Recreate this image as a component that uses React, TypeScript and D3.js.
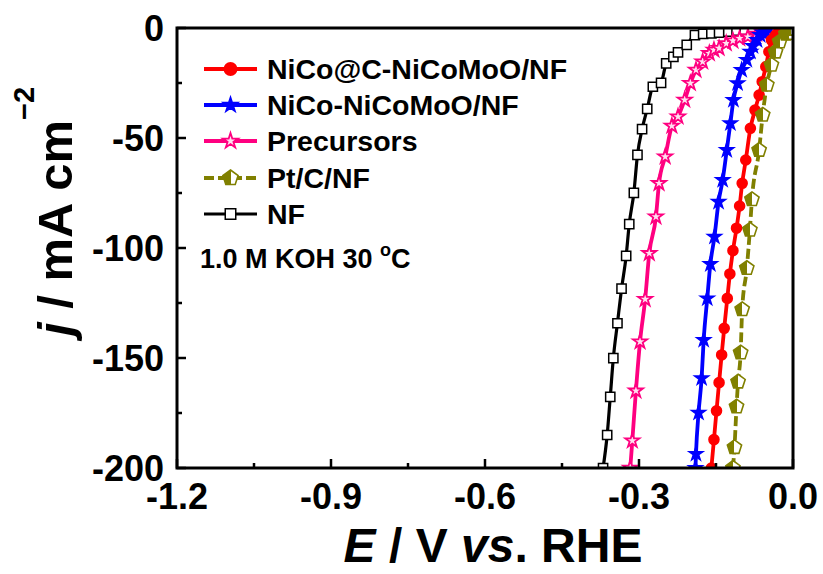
import React from "react";
import * as d3 from "d3";

const xTicks = [-1.2, -0.9, -0.6, -0.3, 0.0];
const xMinor = [-1.05, -0.75, -0.45, -0.15];
const yTicks = [0, -50, -100, -150, -200];
const yMinor = [-25, -75, -125, -175];

const seriesNames = ["NiCo@C-NiCoMoO/NF", "NiCo-NiCoMoO/NF", "Precursors", "Pt/C/NF", "NF"];

const nfE = [-0.370, -0.362, -0.356, -0.350, -0.342, -0.334, -0.325, -0.319, -0.310, -0.303, -0.294, -0.284, -0.273, -0.257, -0.247, -0.233, -0.224, -0.207, -0.191, -0.175, -0.159, -0.144, -0.126, -0.110, -0.094, -0.078, -0.062];
const nfJ = [-200, -185, -167.7, -150.1, -134.2, -118.5, -103.6, -89.1, -74.9, -57.7, -46, -36.8, -26.7, -24.9, -16.1, -13.1, -11.1, -7.7, -3.2, -2.7, -2.4, -2.1, -1.7, -1.2, -0.9, -0.6, -0.1];

const preE = [-0.317, -0.313, -0.306, -0.298, -0.288, -0.280, -0.267, -0.261, -0.249, -0.236, -0.224, -0.211, -0.200, -0.189, -0.176, -0.163, -0.154, -0.144, -0.130, -0.117, -0.104, -0.088, -0.071, -0.059, -0.047];
const preJ = [-200, -187.6, -164.9, -142.6, -123.3, -102.4, -85.8, -70.6, -58.5, -44.5, -40.3, -32.7, -25.1, -19.1, -15.3, -11.5, -10, -9.2, -7, -5.8, -4.7, -4, -2.7, -2.1, -1.2];

const blueE = [-0.190, -0.189, -0.184, -0.178, -0.174, -0.167, -0.161, -0.153, -0.145, -0.137, -0.129, -0.122, -0.116, -0.108, -0.100, -0.090, -0.083, -0.078, -0.070, -0.064, -0.059, -0.054, -0.048];
const blueJ = [-200, -193.6, -174.9, -159.2, -141.8, -122.9, -107.3, -94.9, -79, -69.1, -55.5, -43.3, -32.7, -25.1, -19.1, -14.5, -10.8, -8.2, -5.5, -3.2, -2.1, -1.4, -0.3];

const redE = [-0.159, -0.154, -0.149, -0.144, -0.139, -0.134, -0.128, -0.123, -0.117, -0.110, -0.104, -0.099, -0.092, -0.083, -0.074, -0.066, -0.060, -0.053, -0.047, -0.042, -0.034, -0.026, -0.020];
const redJ = [-200, -187.1, -174, -161.2, -148.6, -136.5, -122.9, -111.8, -101.2, -91, -80.9, -70.6, -60, -45.6, -37.3, -30.5, -24.4, -17.6, -10.8, -5.5, -3.3, -1.2, -0.5];

const ptE = [-0.117, -0.114, -0.110, -0.107, -0.102, -0.099, -0.090, -0.084, -0.080, -0.066, -0.059, -0.051, -0.042, -0.034, -0.026, -0.014, -0.008, -0.003];
const ptJ = [-200, -190.6, -172.1, -160.8, -147.6, -127.9, -109.2, -91.8, -77.9, -55.5, -39.5, -25.9, -16.8, -10.8, -6.2, -2.7, -2.4, -0.5];

const W = 823, H = 574;
const L = 177, R = 793, T = 28, B = 468;

const x = d3.scaleLinear().domain([-1.2, 0]).range([L, R]);
const y = d3.scaleLinear().domain([0, -200]).range([T, B]);

type Pt = { e: number; j: number };
const zip = (es: number[], js: number[]): Pt[] => es.map((e, i) => ({ e, j: js[i] }));

const line = d3
  .line<Pt>()
  .x((d) => x(d.e))
  .y((d) => y(d.j))
  .curve(d3.curveMonotoneX);

const FONT = "'Liberation Sans', Arial, sans-serif";

function pentagon(cx: number, cy: number, r: number) {
  const pts = d3.range(5).map((k) => {
    const a = -Math.PI / 2 + (k * 2 * Math.PI) / 5;
    return [cx + r * Math.cos(a), cy + r * Math.sin(a)];
  });
  return "M" + pts.map((p) => p.join(",")).join("L") + "Z";
}

const circ = d3.symbol().type(d3.symbolCircle).size(105)();
const star = d3.symbol().type(d3.symbolStar).size(62)();
const starL = d3.symbol().type(d3.symbolStar).size(72)();
const sq = d3.symbol().type(d3.symbolSquare).size(85)();
const sqL = d3.symbol().type(d3.symbolSquare).size(110)();

type Series = {
  name: string;
  data: Pt[];
  color: string;
  width: number;
  dash?: string;
  marker: (px: number, py: number, key: string | number, legend?: boolean) => React.ReactNode;
};

const series: Series[] = [
  {
    name: seriesNames[4],
    data: zip(nfE, nfJ),
    color: "#000000",
    width: 3.2,
    marker: (px, py, k, lg) => (
      <path key={k} d={lg ? sqL : sq} transform={`translate(${px},${py})`} fill="#fff" stroke="#000" strokeWidth={1.5} />
    ),
  },
  {
    name: seriesNames[2],
    data: zip(preE, preJ),
    color: "#FF0080",
    width: 3.8,
    marker: (px, py, k, lg) => (
      <path key={k} d={lg ? starL : star} transform={`translate(${px},${py})`} fill="#ffe0f0" stroke="#FF0080" strokeWidth={1.8} />
    ),
  },
  {
    name: seriesNames[1],
    data: zip(blueE, blueJ),
    color: "#0000FF",
    width: 3.8,
    marker: (px, py, k, lg) => (
      <path key={k} d={lg ? starL : star} transform={`translate(${px},${py})`} fill="#0000FF" stroke="#0000FF" strokeWidth={1.4} />
    ),
  },
  {
    name: seriesNames[0],
    data: zip(redE, redJ),
    color: "#FF0000",
    width: 3.8,
    marker: (px, py, k, lg) => (
      <path key={k} d={circ} transform={`translate(${px},${py})${lg ? " scale(1.2)" : ""}`} fill="#FF0000" />
    ),
  },
  {
    name: seriesNames[3],
    data: zip(ptE, ptJ),
    color: "#808000",
    width: 3.8,
    dash: "10,4",
    marker: (px, py, k, lg) => (
      <path key={k} d={pentagon(px, py, lg ? 8 : 7.5)} fill="url(#halfOlive)" stroke="#808000" strokeWidth={1.6} />
    ),
  },
];

const legendOrder = [3, 2, 1, 4, 0];
const legendY = [69, 105, 141, 178, 214];

export default function App() {
  return (
    <svg width={W} height={H} style={{ position: "absolute", left: 0, top: 0, background: "#fff" }} fontFamily={FONT}>
      <defs>
        <clipPath id="plotClip">
          <rect x={L} y={T} width={R - L} height={B - T} />
        </clipPath>
        <linearGradient id="halfOlive" x1="0" x2="1" y1="0" y2="0">
          <stop offset="0.5" stopColor="#808000" />
          <stop offset="0.5" stopColor="#ffffff" />
        </linearGradient>
      </defs>

      <g clipPath="url(#plotClip)">
        {series.map((s, i) => (
          <g key={i}>
            <path d={line(s.data) || ""} fill="none" stroke={s.color} strokeWidth={s.width} strokeDasharray={s.dash} />
            {s.data.map((d, k) => s.marker(x(d.e), y(d.j), k))}
          </g>
        ))}
      </g>

      {/* frame */}
      <rect x={L} y={T} width={R - L} height={B - T} fill="none" stroke="#000" strokeWidth={3} />

      {/* x ticks */}
      {xTicks.map((t) => (
        <g key={"xt" + t}>
          <line x1={x(t)} x2={x(t)} y1={B} y2={B - 9} stroke="#000" strokeWidth={2.5} />
          <text x={x(t)} y={509} textAnchor="middle" fontSize={36} fontWeight="bold">
            {t.toFixed(1)}
          </text>
        </g>
      ))}
      {xMinor.map((t) => (
        <line key={"xm" + t} x1={x(t)} x2={x(t)} y1={B} y2={B - 5} stroke="#000" strokeWidth={2.5} />
      ))}

      {/* y ticks */}
      {yTicks.map((t) => (
        <g key={"yt" + t}>
          <line x1={L} x2={L + 9} y1={y(t)} y2={y(t)} stroke="#000" strokeWidth={2.5} />
          <text x={164} y={y(t) + 12.5} textAnchor="end" fontSize={36} fontWeight="bold">
            {String(t)}
          </text>
        </g>
      ))}
      {yMinor.map((t) => (
        <line key={"ym" + t} x1={L} x2={L + 5} y1={y(t)} y2={y(t)} stroke="#000" strokeWidth={2.5} />
      ))}

      {/* legend */}
      {legendOrder.map((si, r) => {
        const s = series[si];
        const ly = legendY[r];
        return (
          <g key={"lg" + r}>
            <line x1={204} x2={257} y1={ly} y2={ly} stroke={s.color} strokeWidth={s.width} strokeDasharray={s.dash} />
            {s.marker(230.5, ly, "m" + r, true)}
            <text x={267} y={ly + 10} fontSize={28.5} fontWeight="bold">
              {s.name}
            </text>
          </g>
        );
      })}
      <text x={200} y={268} fontSize={27} fontWeight="bold">
        1.0 M KOH 30 <tspan dy={-12} fontSize={18}>o</tspan>
        <tspan dy={12}>C</tspan>
      </text>

      {/* axis titles */}
      <text x={493} y={562} textAnchor="middle" fontSize={48} fontWeight="bold">
        <tspan fontStyle="italic">E</tspan>
        <tspan> / V </tspan>
        <tspan fontStyle="italic">vs</tspan>
        <tspan>. RHE</tspan>
      </text>
      <text transform="translate(72,336) rotate(-90)" fontSize={49} fontWeight="bold">
        <tspan fontStyle="italic">j</tspan>
        <tspan> / mA cm</tspan>
        <tspan dy={-38} fontSize={29}>−2</tspan>
      </text>
    </svg>
  );
}
